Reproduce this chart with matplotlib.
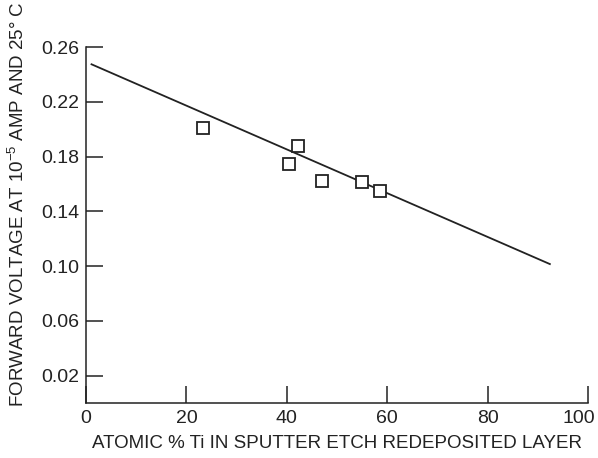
import matplotlib
matplotlib.use('Agg')
from matplotlib import pyplot as plt
from matplotlib.transforms import offset_copy

plt.rcParams['font.family'] = ['Liberation Sans', 'DejaVu Sans']
plt.rcParams['mathtext.fontset'] = 'custom'
plt.rcParams['mathtext.rm'] = 'Liberation Sans'
plt.rcParams['mathtext.it'] = 'Liberation Sans'

# measured points
ti_pct = [23.3, 40.5, 42.2, 47.0, 54.9, 58.6]
fwd_v = [0.2007, 0.1744, 0.1877, 0.1624, 0.1617, 0.1549]

# fitted line
fit_x = [1.1, 92.4]
fit_y = [0.2474, 0.1015]

x_ticks = [0, 20, 40, 60, 80, 100]
y_ticks = [0.02, 0.06, 0.10, 0.14, 0.18, 0.22, 0.26]

fig = plt.figure(figsize=(5.98, 4.58), dpi=100)
ax = fig.add_axes([0.1438, 0.12, 0.8395, 0.7773])

ax.plot(fit_x, fit_y, color='#222222', linewidth=1.3)
ax.plot(ti_pct, fwd_v, linestyle='none', marker='s', markersize=9,
        markerfacecolor='white', markeredgecolor='#222222', markeredgewidth=1.3)

ax.set_xlim(0, 100)
ax.set_ylim(0, 0.26)
ax.set_xticks(x_ticks)
ax.set_yticks(y_ticks)
ax.set_xticklabels([str(v) for v in x_ticks])
ax.set_yticklabels(['%.2f' % v for v in y_ticks])

for side in ['top', 'right']:
    ax.spines[side].set_visible(False)
for side in ['left', 'bottom']:
    ax.spines[side].set_linewidth(1.1)
    ax.spines[side].set_color('#222222')

ax.tick_params(direction='in', length=12, width=1.1, color='#222222',
               labelsize=14, labelcolor='#222222', pad=5)

# last x label sits a bit left of its tick, so it stays inside the figure
last = ax.get_xticklabels()[-1]
last.set_transform(offset_copy(last.get_transform(), fig=fig, x=-9, units='dots'))

ax.set_xlabel('ATOMIC % Ti IN SPUTTER ETCH REDEPOSITED LAYER', fontsize=13.5,
              color='#222222', labelpad=6)
ax.set_ylabel(r'FORWARD VOLTAGE AT 10$^{-5}$ AMP AND 25$\degree$ C', fontsize=13.5,
              color='#222222')
ax.yaxis.set_label_coords(-0.115, 0.56)

fig.savefig('out.png', dpi=100)
